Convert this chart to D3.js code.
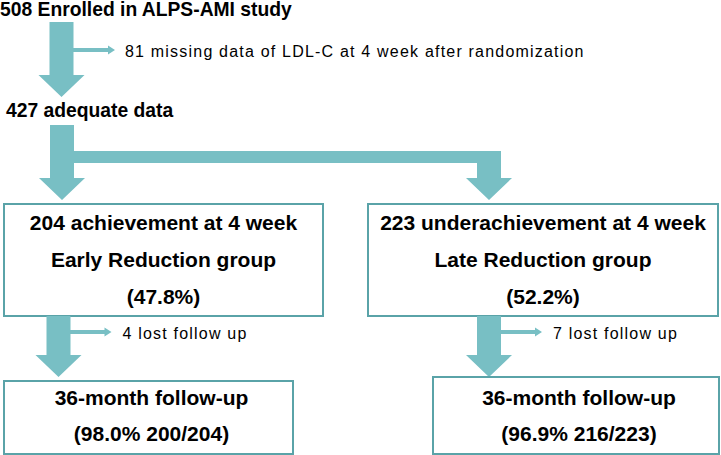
<!DOCTYPE html>
<head>
<meta charset="utf-8">
<style>
body {
  margin: 0;
  background: #fff;
}
text {
  font-family: 'Liberation Sans', Arial, sans-serif;
  fill: #000;
}
.head {
  font-weight: 700;
  font-size: 19.3px;
}
.side {
  font-size: 16px;
  letter-spacing: 1.2px;
}
.boxtext {
  font-weight: 700;
  font-size: 21px;
  text-anchor: middle;
}
.box {
  fill: #fff;
  stroke: #5aa3a8;
  stroke-width: 2;
}
.arrow {
  fill: #78bfc4;
}
</style>
</head>

<body>
<div id="chart1"></div>

<script src="https://d3js.org/d3.v7.min.js"></script>
<script>

// study numbers
var enrolled = 508,
    missing = 81,
    adequate = 427;
var groups = ["early", "late"];
var groupNames = ["Early Reduction group", "Late Reduction group"];
var groupStatus = ["achievement", "underachievement"];
var groupN = [204, 223];
var groupPct = ["47.8%", "52.2%"];
var lostN = [4, 7];
var followN = [200, 216];
var followPct = ["98.0%", "96.9%"];

var width = 721, height = 455;

var svg = d3.select('#chart1')
  .append('svg')
    .attr('width', width)
    .attr('height', height);

// layout: one column per group
var arrowX = d3.scaleOrdinal().domain(groups).range([62, 489]);
var lowArrowX = d3.scaleOrdinal().domain(groups).range([58.5, 489]);
var topBox = d3.scaleOrdinal().domain(groups).range([[4, 323], [368, 718]]);
var lowBox = d3.scaleOrdinal().domain(groups).range([[4, 293, 381], [433, 719, 377]]);

function bigArrow(cx, y0, y1) {
  var sw = 12, hw = 23, hl = 22;
  var p = d3.path();
  p.moveTo(cx - sw, y0);
  p.lineTo(cx + sw, y0);
  p.lineTo(cx + sw, y1 - hl);
  p.lineTo(cx + hw, y1 - hl);
  p.lineTo(cx, y1);
  p.lineTo(cx - hw, y1 - hl);
  p.lineTo(cx - sw, y1 - hl);
  p.closePath();
  return p.toString();
}

function smallArrow(x0, x1, cy) {
  var p = d3.path();
  p.moveTo(x0, cy - 2);
  p.lineTo(x1 - 7, cy - 2);
  p.lineTo(x1 - 7, cy - 4.5);
  p.lineTo(x1, cy);
  p.lineTo(x1 - 7, cy + 4.5);
  p.lineTo(x1 - 7, cy + 2);
  p.lineTo(x0, cy + 2);
  p.closePath();
  return p.toString();
}

// enrolment -> adequate
svg.append("text").attr("class", "head")
  .attr("x", 0).attr("y", 16)
  .text(enrolled + " Enrolled in ALPS-AMI study");

svg.append("path").attr("class", "arrow")
  .attr("d", bigArrow(61.5, 22, 97));
svg.append("path").attr("class", "arrow")
  .attr("d", smallArrow(73, 115, 50));

svg.append("text").attr("class", "side")
  .attr("x", 125).attr("y", 57)
  .text(missing + " missing data of LDL-C at 4 week after randomization");

svg.append("text").attr("class", "head")
  .attr("x", 6).attr("y", 117)
  .text(adequate + " adequate data");

// split into two groups
svg.append("rect").attr("class", "arrow")
  .attr("x", arrowX("early"))
  .attr("y", 151)
  .attr("width", arrowX("late") - arrowX("early"))
  .attr("height", 12);

svg.selectAll(".split")
  .data(groups)
  .enter().append("path")
    .attr("class", "arrow split")
    .attr("d", function(d) { return bigArrow(arrowX(d), d === "early" ? 125 : 151, 200); });

// group boxes
var topG = svg.selectAll(".topgrp")
  .data(groups)
  .enter().append("g")
    .attr("class", "topgrp");

topG.append("rect").attr("class", "box")
  .attr("x", function(d) { return topBox(d)[0]; })
  .attr("y", 204)
  .attr("width", function(d) { return topBox(d)[1] - topBox(d)[0]; })
  .attr("height", 112);

topG.each(function(d, i) {
  var cx = (topBox(d)[0] + topBox(d)[1]) / 2;
  var lines = [groupN[i] + " " + groupStatus[i] + " at 4 week", groupNames[i], "(" + groupPct[i] + ")"];
  d3.select(this).selectAll(".boxtext")
    .data(lines)
    .enter().append("text")
      .attr("class", "boxtext")
      .attr("x", cx)
      .attr("y", function(l, j) { return 230 + j * 37; })
      .text(function(l) { return l; });
});

// lost to follow up
svg.selectAll(".down")
  .data(groups)
  .enter().append("path")
    .attr("class", "arrow down")
    .attr("d", function(d) { return bigArrow(lowArrowX(d), 316, 377); });

svg.selectAll(".lostarrow")
  .data(groups)
  .enter().append("path")
    .attr("class", "arrow lostarrow")
    .attr("d", function(d) { return smallArrow(lowArrowX(d) + 11, lowArrowX(d) + 53, 332); });

svg.selectAll(".lost")
  .data(groups)
  .enter().append("text")
    .attr("class", "side lost")
    .attr("x", function(d) { return lowArrowX(d) + 64; })
    .attr("y", 339)
    .text(function(d, i) { return lostN[i] + " lost follow up"; });

// 36-month boxes
var lowG = svg.selectAll(".lowgrp")
  .data(groups)
  .enter().append("g")
    .attr("class", "lowgrp");

lowG.append("rect").attr("class", "box")
  .attr("x", function(d) { return lowBox(d)[0]; })
  .attr("y", function(d) { return lowBox(d)[2]; })
  .attr("width", function(d) { return lowBox(d)[1] - lowBox(d)[0]; })
  .attr("height", function(d) { return 454 - lowBox(d)[2]; });

lowG.each(function(d, i) {
  var cx = (lowBox(d)[0] + lowBox(d)[1]) / 2 + 3;
  var lines = ["36-month follow-up", "(" + followPct[i] + " " + followN[i] + "/" + groupN[i] + ")"];
  d3.select(this).selectAll(".boxtext")
    .data(lines)
    .enter().append("text")
      .attr("class", "boxtext")
      .attr("x", cx)
      .attr("y", function(l, j) { return 405 + j * 36; })
      .text(function(l) { return l; });
});

</script>
</body>
